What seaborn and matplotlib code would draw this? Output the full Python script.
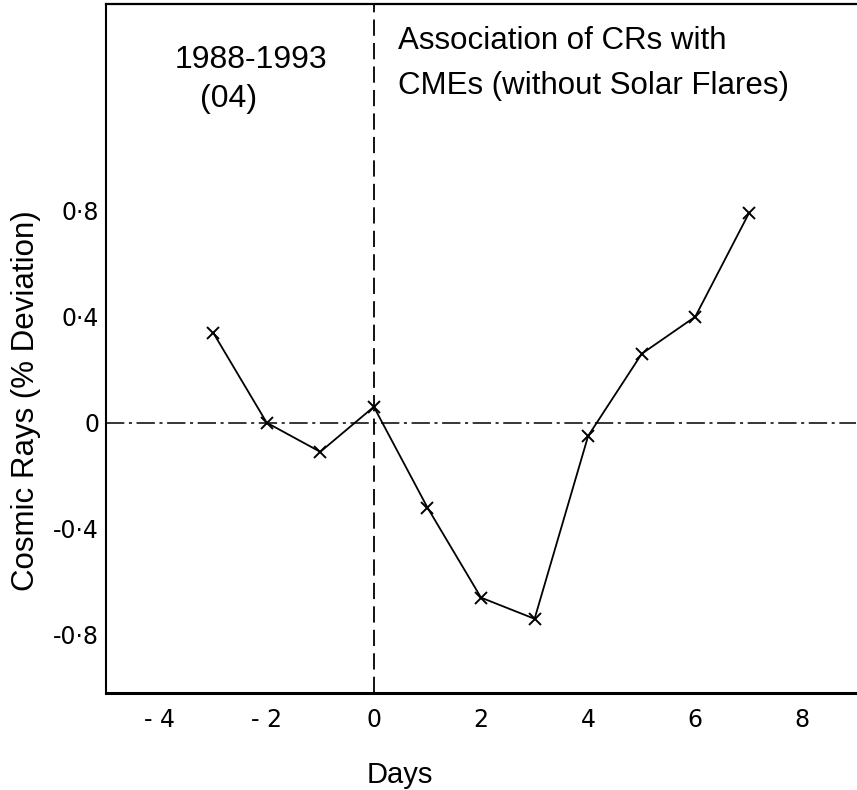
import pandas as pd
import matplotlib
matplotlib.use("Agg")
import matplotlib.pyplot as plt
import seaborn as sns

# values
days = [-3, -2, -1, 0, 1, 2, 3, 4, 5, 6, 7]
deviation = [0.34, 0.0, -0.11, 0.06, -0.32, -0.66, -0.74, -0.05, 0.26, 0.40, 0.79]

x_ticks = [-4, -2, 0, 2, 4, 6, 8]
x_tick_labels = ["- 4", "- 2", "0", "2", "4", "6", "8"]
y_ticks = [-0.8, -0.4, 0, 0.4, 0.8]
y_tick_labels = ["-0·8", "-0·4", "0", "0·4", "0·8"]

sns.set_style("white")
plt.rcParams["font.family"] = ["Liberation Sans", "DejaVu Sans"]
plt.rcParams["text.color"] = "black"
plt.rcParams["axes.labelcolor"] = "black"

df = pd.DataFrame({"Days": days, "CR": deviation})

fig = plt.figure(figsize=(8.57, 7.90), dpi=100)
ax = fig.add_axes([106 / 857, 97 / 790, 750 / 857, 689 / 790])

sns.lineplot(
    data=df, x="Days", y="CR", ax=ax,
    color="black", linewidth=1.3,
    marker="x", markersize=9, markeredgewidth=1.4, markeredgecolor="black",
)

ax.axhline(0, color="black", linewidth=1.1, linestyle=(0, (12, 3, 2, 3)), zorder=1)
ax.axvline(0, color="black", linewidth=1.3, linestyle=(0, (9, 4)), zorder=1)

ax.set_xlim(-5.0, 9.0)
ax.set_ylim(-1.02, 1.58)

ax.set_xticks(x_ticks)
ax.set_xticklabels(x_tick_labels)
ax.set_yticks(y_ticks)
ax.set_yticklabels(y_tick_labels)
ax.tick_params(axis="x", direction="in", length=7, width=1, pad=11,
               labelsize=17, colors="black")
ax.tick_params(axis="y", direction="in", length=6, width=1, pad=5,
               labelsize=17, colors="black")
for lbl in ax.get_xticklabels() + ax.get_yticklabels():
    lbl.set_fontfamily("DejaVu Sans")

ax.spines["right"].set_visible(False)
ax.spines["top"].set_linewidth(1.6)
ax.spines["left"].set_linewidth(1.5)
ax.spines["bottom"].set_linewidth(2.2)
for s in ["top", "left", "bottom"]:
    ax.spines[s].set_color("black")

ax.set_xlabel("Days", fontsize=21)
ax.xaxis.set_label_coords(0.392, -0.098)
ax.set_ylabel("Cosmic Rays (% Deviation)", fontsize=22.5)
ax.yaxis.set_label_coords(-0.086, 0.425)

ax.text(-2.3, 1.37, "1988-1993", fontsize=23, ha="center", va="center")
ax.text(-3.25, 1.22, "(04)", fontsize=23, ha="left", va="center")
ax.text(0.45, 1.44, "Association of CRs with", fontsize=22.5, ha="left", va="center")
ax.text(0.45, 1.27, "CMEs (without Solar Flares)", fontsize=22.5, ha="left", va="center")

fig.savefig("out.png", dpi=100)
